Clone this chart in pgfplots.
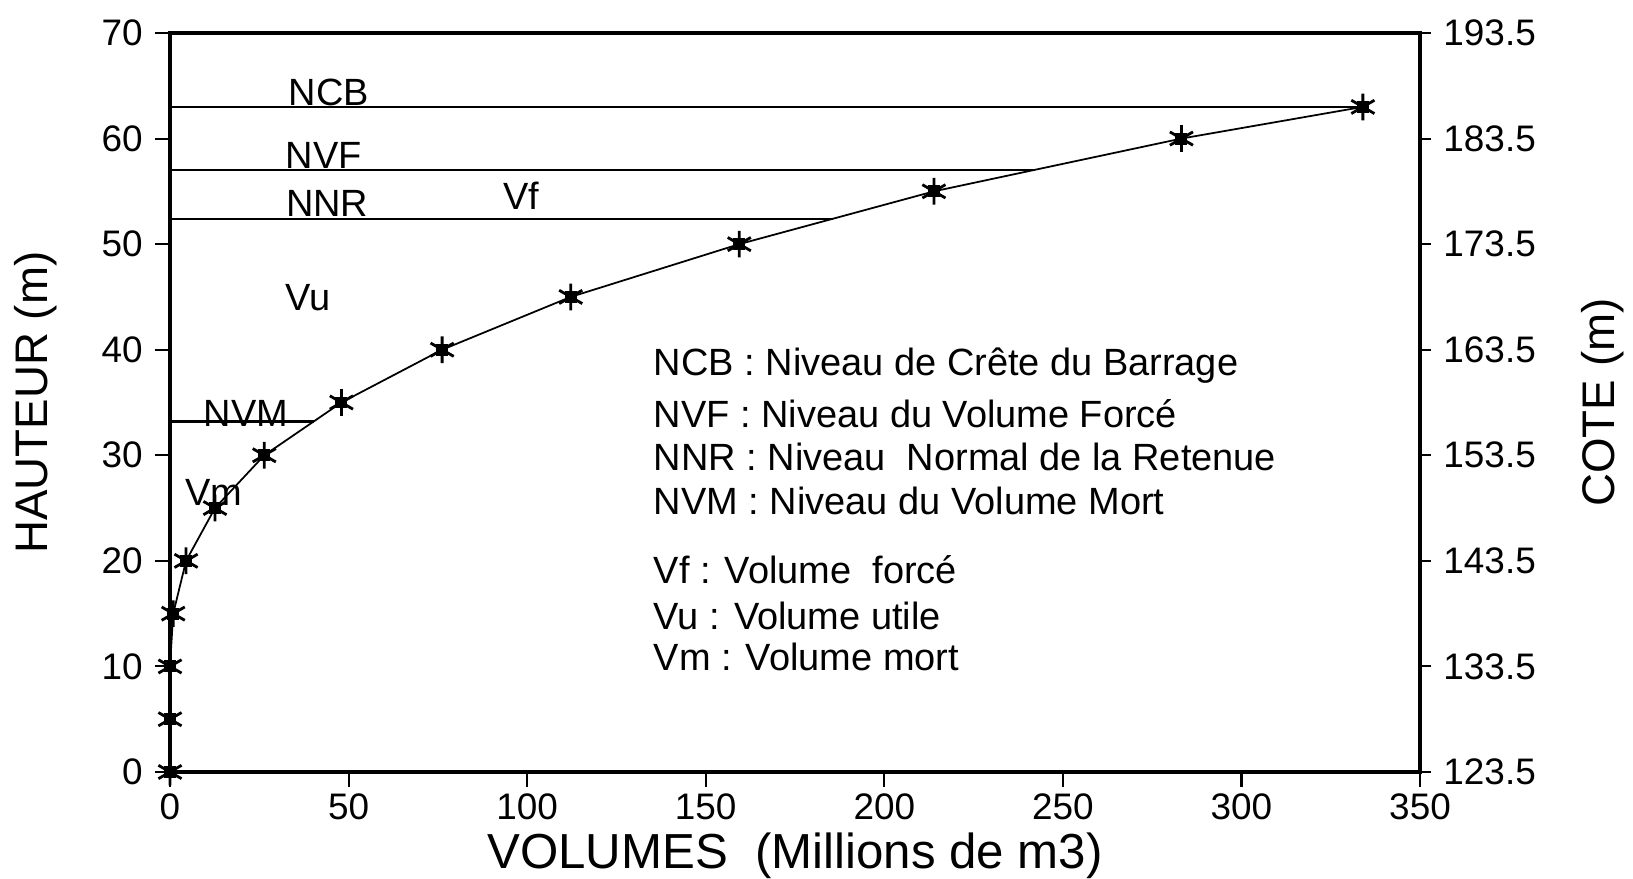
\documentclass[border=0pt]{standalone}
\usepackage{fontspec}
\setmainfont{Liberation Sans}
\usepackage{pgfplots}
\pgfplotsset{compat=1.18}
\newcommand\lbl{\fontsize{10.8}{13}\selectfont}
\begin{document}
\begin{tikzpicture}
\begin{axis}[
  name=main,
  scale only axis,
  width=125mm, height=73.9mm,
  xmin=0, xmax=350, ymin=0, ymax=70,
  xtick={0,50,100,150,200,250,300,350},
  ytick={0,10,20,30,40,50,60,70},
  xtick pos=left, ytick pos=left,
  tick align=outside,
  major tick length=1.5mm,
  axis line style={line width=1pt},
  tick style={line width=0.6pt, black},
  ticklabel style={font=\fontsize{10.5}{12}\selectfont},
  xticklabel style={yshift=0.6mm},
  /pgf/number format/assume math mode=true,
  xlabel={VOLUMES\ \ (Millions de m3)},
  ylabel={HAUTEUR (m)},
  xlabel style={at={([yshift=-8.4mm]axis description cs:0.5,0)}, anchor=center, inner sep=0pt, font=\fontsize{14}{16}\selectfont},
  ylabel style={at={([xshift=-13.4mm]axis description cs:0,0.5)}, anchor=center, inner sep=0pt, font=\fontsize{13}{15}\selectfont},
  clip=false,
]
% level lines
\addplot[black, line width=0.6pt] coordinates {(0,63) (334,63)};
\addplot[black, line width=0.6pt] coordinates {(0,57) (241.6,57)};
\addplot[black, line width=0.6pt] coordinates {(0,52.4) (185.6,52.4)};
\addplot[black, line width=0.6pt] coordinates {(0,33.2) (40.2,33.2)};
% height-volume curve
\addplot[black, line width=0.5pt, mark=asterisk, mark size=3.8pt, mark options={line width=0.8pt}]
  coordinates {(0,0) (0,5) (0,10) (0.9,15) (4.5,20) (12.6,25) (26.4,30) (48,35) (76.2,40) (112.2,45) (159.4,50) (213.9,55) (283.2,60) (334,63)};
\addplot[black, only marks, mark=square*, mark size=1.5pt]
  coordinates {(0,0) (0,5) (0,10) (0.9,15) (4.5,20) (12.6,25) (26.4,30) (48,35) (76.2,40) (112.2,45) (159.4,50) (213.9,55) (283.2,60) (334,63)};
% labels
\node[font=\lbl] at (axis cs:44.5,64.4) {NCB};
\node[font=\lbl] at (axis cs:43.1,58.4) {NVF};
\node[font=\lbl] at (axis cs:44,53.9) {NNR};
\node[font=\lbl] at (axis cs:98.3,54.6) {Vf};
\node[font=\lbl] at (axis cs:38.6,44.9) {Vu};
\node[font=\lbl] at (axis cs:21.3,34.0) {NVM};
\node[font=\lbl] at (axis cs:12.3,26.5) {Vm};
% explanation block
\node[font=\lbl, anchor=west] at (axis cs:132,38.5) {NCB : Niveau de Crête du Barrage};
\node[font=\lbl, anchor=west] at (axis cs:132,33.9) {NVF : Niveau du Volume Forcé};
\node[font=\lbl, anchor=west] at (axis cs:132,29.8) {NNR : Niveau\ \ Normal de la Retenue};
\node[font=\lbl, anchor=west] at (axis cs:132,25.7) {NVM : Niveau du Volume Mort};
\node[font=\lbl, anchor=west] at (axis cs:132,19.2) {Vf : Volume\ \ forcé};
\node[font=\lbl, anchor=west] at (axis cs:132,14.8) {Vu : Volume utile};
\node[font=\lbl, anchor=west] at (axis cs:132,10.9) {Vm : Volume mort};
\end{axis}
\begin{axis}[
  scale only axis,
  width=125mm, height=73.9mm,
  at={(main.south west)}, anchor=south west,
  xmin=0, xmax=350, ymin=123.5, ymax=193.5,
  axis x line=none, axis y line*=right,
  axis line style={-, line width=1pt},
  ytick={123.5,133.5,143.5,153.5,163.5,173.5,183.5,193.5},
  tick align=outside,
  major tick length=1.1mm,
  tick style={line width=0.6pt, black},
  yticklabel style={font=\fontsize{10.5}{12}\selectfont, /pgf/number format/.cd, fixed, fixed zerofill, precision=1, assume math mode=true},
  ylabel={COTE (m)},
  ylabel style={at={([xshift=18.3mm]axis description cs:1,0.5)}, anchor=center, inner sep=0pt, font=\fontsize{13}{15}\selectfont},
]
\addplot[draw=none] coordinates {(0,123.5) (350,193.5)};
\end{axis}
\path (main.south west) ++(-17mm,-10.7mm) rectangle ([shift={(21.3mm,3.3mm)}]main.north east);
\end{tikzpicture}
\end{document}
